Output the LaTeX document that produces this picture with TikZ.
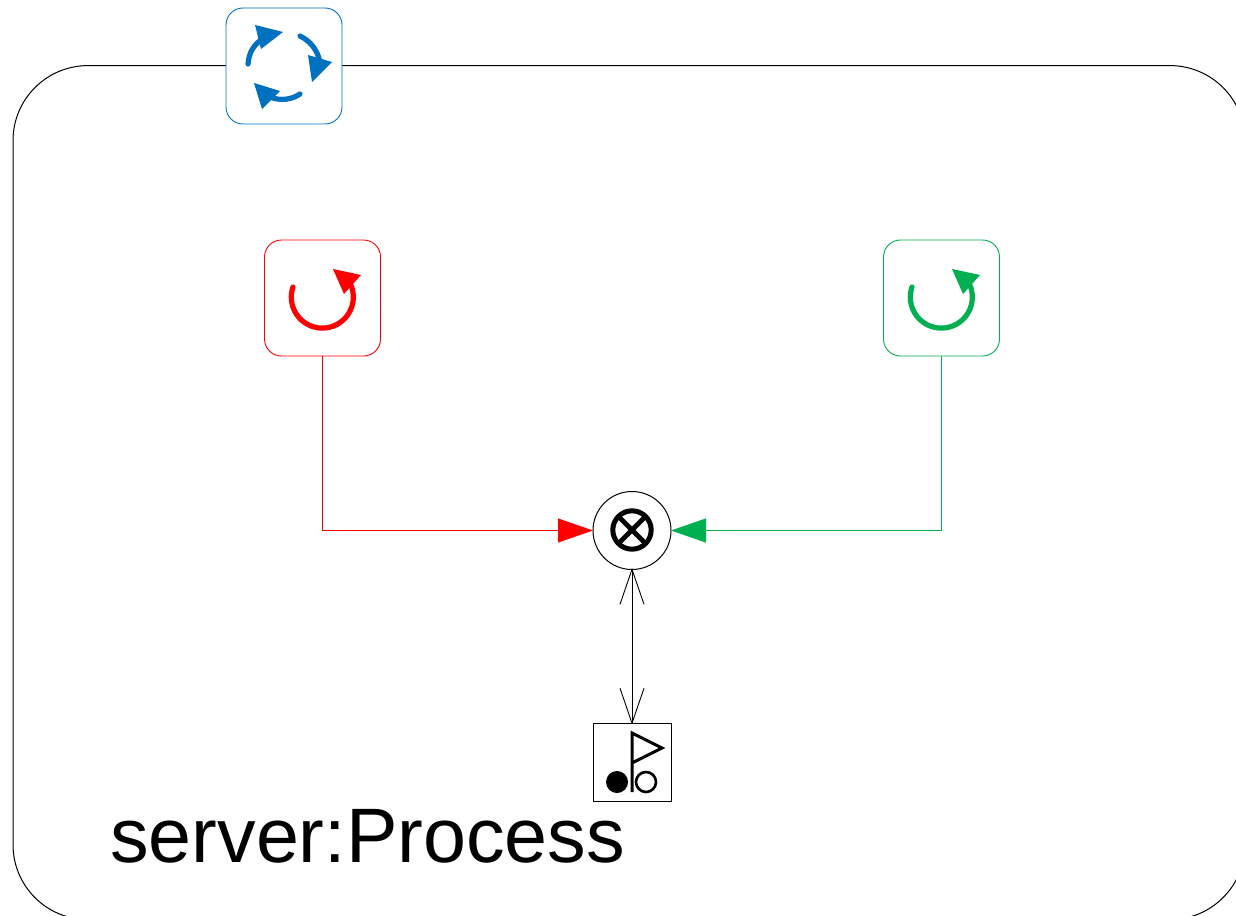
\documentclass[tikz,border=0pt]{standalone}
\usepackage{fontspec}
\setmainfont{Liberation Sans}
\usetikzlibrary{arrows.meta}
\definecolor{cblue}{HTML}{0070C0}
\definecolor{cred}{HTML}{FF0000}
\definecolor{cgreen}{HTML}{00B050}
\tikzset{
  iconbox/.style={draw=#1,fill=white,line width=0.9pt,rounded corners=17pt,minimum size=116pt,inner sep=0pt,outer sep=0pt},
  stroke/.style={draw=#1,line width=5.2pt,line cap=round},
  tiphead/.style={fill=#1,draw=none},
  flowline/.style={draw=#1,line width=0.9pt,-{Triangle[length=35pt,width=24pt,color=#1]}},
  barbline/.style={draw=black,line width=0.9pt,shorten >=-1.6pt,shorten <=-1.6pt,{Straight Barb[length=35pt,width=24pt,line width=0.9pt]}-{Straight Barb[length=35pt,width=24pt,line width=0.9pt]}},
  thin black/.style={draw=black,line width=1pt}
}
\begin{document}
\begin{tikzpicture}[x=1pt,y=-1pt]
\useasboundingbox (0,0) rectangle (1236,915);
\clip (0,0) rectangle (1236,915);
% container
\node[draw=black,line width=1pt,rounded corners=75pt,minimum width=1232pt,minimum height=854pt,inner sep=0pt,outer sep=0pt,anchor=north west] (process) at (13,65.6) {};
% boxes
\node[iconbox=cblue] (state) at (284,66) {};
\node[iconbox=cred] (redloop) at (322.5,298) {};
\node[iconbox=cgreen] (greenloop) at (941.5,298) {};
\node[circle,thin black,fill=white,minimum size=78pt,inner sep=0pt,outer sep=0pt] (gate) at (632,530.5) {};
\node[thin black,fill=white,minimum size=78pt,inner sep=0pt,outer sep=0pt] (flag) at (632,762) {};
\node[anchor=base west,inner sep=0pt,font=\fontsize{77.2pt}{77.2pt}\selectfont] (label) at (110,862) {server:Process};
% connectors
\draw[flowline=cred] (redloop.south) |- (gate.west);
\draw[flowline=cgreen] (greenloop.south) |- (gate.east);
\draw[barbline] (gate.south) -- (flag.north);
% blue cycle icon
\draw[stroke=cblue] (248,64) .. controls (249,52) and (254,44) .. (264,38);
\fill[tiphead=cblue] (283,32) -- (255,25) -- (261,49) -- cycle;
\draw[stroke=cblue] (300,36) .. controls (310,41) and (317,49) .. (320,62);
\fill[tiphead=cblue] (312,82) -- (308,55) -- (332,62) -- cycle;
\draw[stroke=cblue] (300,94) .. controls (291,100) and (280,101) .. (270,97);
\fill[tiphead=cblue] (254,83) -- (280,91) -- (262,109) -- cycle;
% red loop icon
\draw[stroke=cred] (293,287) arc[start angle=199,end angle=-30,radius=31];
\fill[tiphead=cred] (333,269) -- (361,275) -- (344,294) -- cycle;
% green loop icon
\draw[stroke=cgreen] (912,287) arc[start angle=199,end angle=-30,radius=31];
\fill[tiphead=cgreen] (952,269) -- (980,275) -- (963,294) -- cycle;
% gate symbol
\draw[black,line width=5pt] (632,530) circle[radius=19.2];
\draw[black,line width=4.8pt] (618.4,516.4) -- (645.6,543.6) (645.6,516.4) -- (618.4,543.6);
% flag symbol
\draw[black,line width=3pt,line join=miter] (632,792) -- (632,733) -- (662,748) -- (632,763);
\fill[black] (617,782) circle[radius=11];
\draw[black,line width=2.6pt] (646,782) circle[radius=10];
\end{tikzpicture}
\end{document}
